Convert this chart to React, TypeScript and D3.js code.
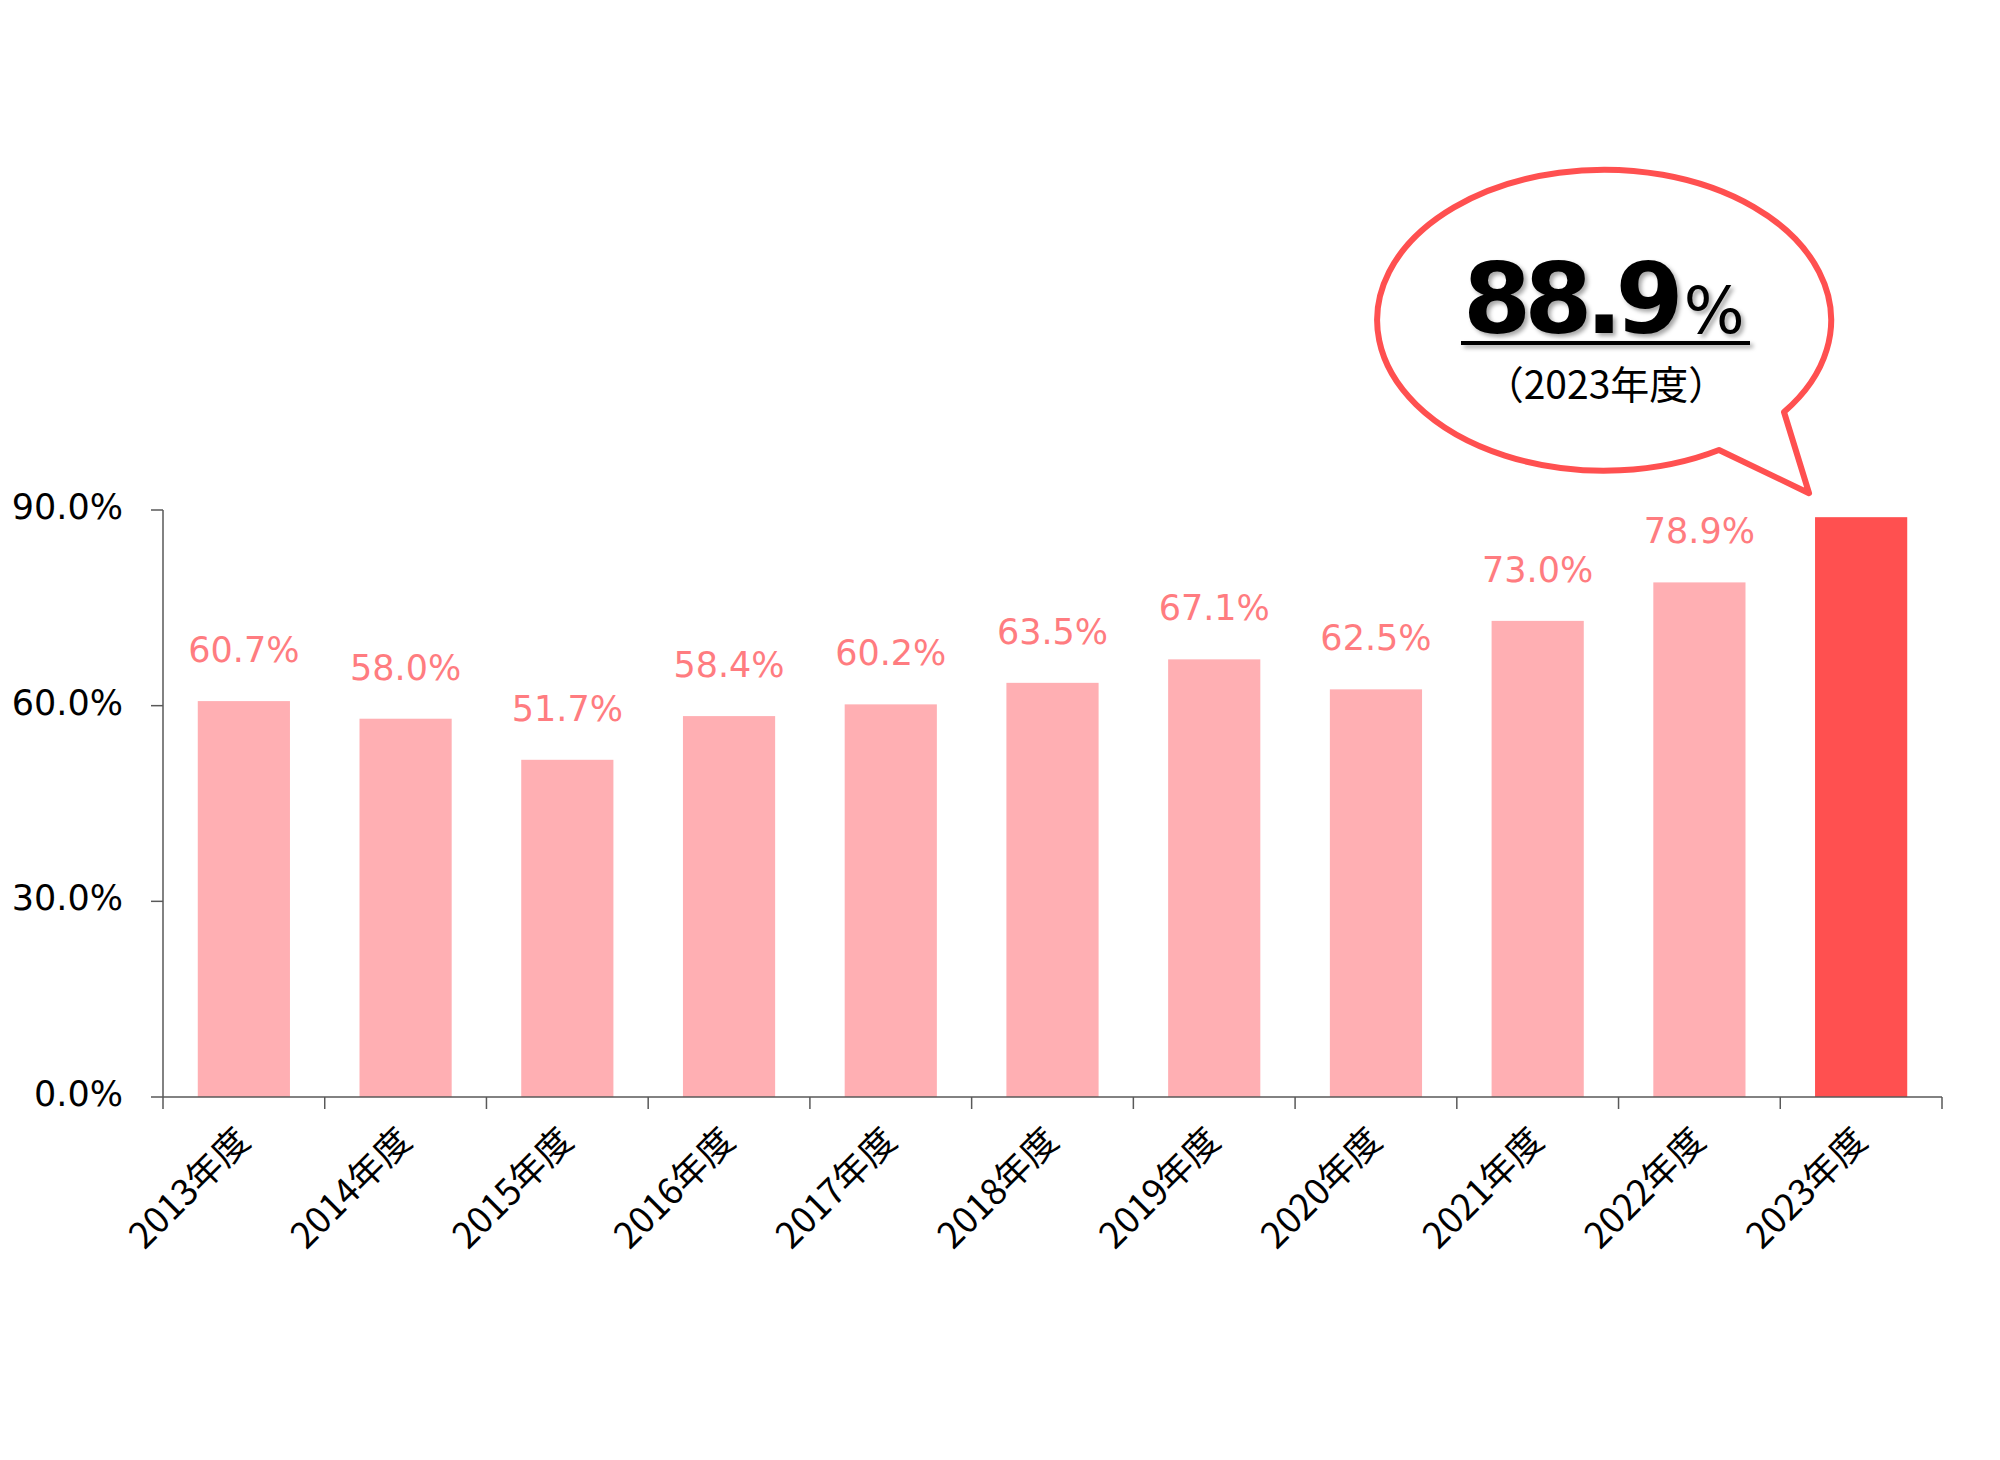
import React, { useEffect, useRef } from 'react'
import * as d3 from 'd3'

const years = ['2013年度', '2014年度', '2015年度', '2016年度', '2017年度', '2018年度', '2019年度', '2020年度', '2021年度', '2022年度', '2023年度']
const rates = [60.7, 58.0, 51.7, 58.4, 60.2, 63.5, 67.1, 62.5, 73.0, 78.9, 88.9]
const yTicks = [0, 30, 60, 90]
const highlightYear = '2023年度'
const highlightValue = '88.9'
const highlightCaption = '（2023年度）'

export default function App() {
  const svgRef = useRef<SVGSVGElement>(null)

  useEffect(() => {
    if (!svgRef.current) return
    const svg = d3.select(svgRef.current)
    svg.selectAll('*').remove()

    const left = 163
    const right = 1942
    const top = 510
    const bottom = 1097

    const x = d3.scaleBand<string>().domain(years).range([left, right]).paddingInner(0.43).paddingOuter(0.215)
    const y = d3.scaleLinear().domain([0, 90]).range([bottom, top])
    const step = x.step()

    const defs = svg.append('defs')
    const shadow = defs.append('filter').attr('id', 'shadow').attr('x', '-10%').attr('y', '-10%').attr('width', '130%').attr('height', '140%')
    shadow.append('feDropShadow').attr('dx', 3).attr('dy', 3).attr('stdDeviation', 2).attr('flood-color', '#000').attr('flood-opacity', 0.35)

    // bars
    svg.append('g')
      .selectAll('rect')
      .data(years)
      .join('rect')
      .attr('x', d => x(d)!)
      .attr('y', (d, i) => y(rates[i]))
      .attr('width', x.bandwidth())
      .attr('height', (d, i) => bottom - y(rates[i]))
      .attr('fill', d => (d === highlightYear ? '#FF5050' : '#FFAFB3'))

    // value labels (the highlighted bar gets the bubble instead)
    svg.append('g')
      .selectAll('text')
      .data(years.filter(d => d !== highlightYear))
      .join('text')
      .attr('x', d => x(d)! + x.bandwidth() / 2)
      .attr('y', d => y(rates[years.indexOf(d)]) - 39)
      .attr('text-anchor', 'middle')
      .style('font-family', '"DejaVu Sans", Verdana, sans-serif')
      .style('font-size', '35px')
      .style('fill', '#FF7C80')
      .text(d => `${rates[years.indexOf(d)].toFixed(1)}%`)

    // y axis
    const yAxis = svg.append('g')
    yAxis.append('line').attr('x1', left).attr('x2', left).attr('y1', top).attr('y2', bottom).attr('stroke', '#595959').attr('stroke-width', 1.5)
    yAxis.selectAll('line.tick')
      .data(yTicks)
      .join('line')
      .attr('class', 'tick')
      .attr('x1', left - 12)
      .attr('x2', left)
      .attr('y1', d => y(d))
      .attr('y2', d => y(d))
      .attr('stroke', '#595959')
      .attr('stroke-width', 1.5)
    yAxis.selectAll('text')
      .data(yTicks)
      .join('text')
      .attr('x', 123)
      .attr('y', d => y(d) + 9)
      .attr('text-anchor', 'end')
      .style('font-family', '"DejaVu Sans", Verdana, sans-serif')
      .style('font-size', '35px')
      .style('fill', '#000')
      .text(d => `${d.toFixed(1)}%`)

    // x axis
    const xAxis = svg.append('g')
    xAxis.append('line').attr('x1', left).attr('x2', right).attr('y1', bottom).attr('y2', bottom).attr('stroke', '#595959').attr('stroke-width', 1.5)
    xAxis.selectAll('line.tick')
      .data(d3.range(years.length + 1))
      .join('line')
      .attr('class', 'tick')
      .attr('x1', i => left + i * step)
      .attr('x2', i => left + i * step)
      .attr('y1', bottom)
      .attr('y2', bottom + 12)
      .attr('stroke', '#595959')
      .attr('stroke-width', 1.5)
    xAxis.selectAll('text')
      .data(years)
      .join('text')
      .attr('transform', d => `translate(${x(d)! + x.bandwidth() / 2 + 8}, ${bottom + 46}) rotate(-45)`)
      .attr('text-anchor', 'end')
      .style('font-family', '"Noto Sans CJK JP", sans-serif')
      .style('font-size', '36px')
      .style('fill', '#000')
      .text(d => d)

    // speech bubble for the highlighted year
    const hx = x(highlightYear)!
    const hy = y(rates[years.indexOf(highlightYear)])
    const tip: [number, number] = [hx - 6, hy - 24]
    const cx = 1606
    const rx = 227
    const ry = 150.5
    const bubble = svg.append('g')
    bubble.append('path')
      .attr('d', `M1719,450 A${rx},${ry} 0 1 1 1784,412 L${tip[0]},${tip[1]} Z`)
      .attr('fill', '#fff')
      .attr('stroke', '#FF5050')
      .attr('stroke-width', 6)
      .attr('stroke-linejoin', 'round')

    const big = bubble.append('g').attr('filter', 'url(#shadow)')
    const bigText = big.append('text')
      .attr('x', 1463)
      .attr('y', 333)
      .style('font-family', '"DejaVu Sans", Verdana, sans-serif')
      .style('fill', '#000')
    bigText.append('tspan')
      .style('font-weight', 'bold')
      .style('font-size', '98px')
      .style('letter-spacing', '-7px')
      .text(highlightValue)
    bigText.append('tspan')
      .attr('dx', 7)
      .style('font-size', '64px')
      .text('%')
    big.append('rect')
      .attr('x', 1461)
      .attr('y', 341)
      .attr('width', 289)
      .attr('height', 4)
      .attr('fill', '#000')

    bubble.append('text')
      .attr('x', cx)
      .attr('y', 399)
      .attr('text-anchor', 'middle')
      .style('font-family', '"Noto Sans CJK JP", sans-serif')
      .style('font-size', '39px')
      .style('fill', '#000')
      .text(highlightCaption)
  }, [])

  return (
    <svg
      ref={svgRef}
      width={2000}
      height={1460}
      style={{ position: 'absolute', left: 0, top: 0, background: '#fff' }}
    />
  )
}
